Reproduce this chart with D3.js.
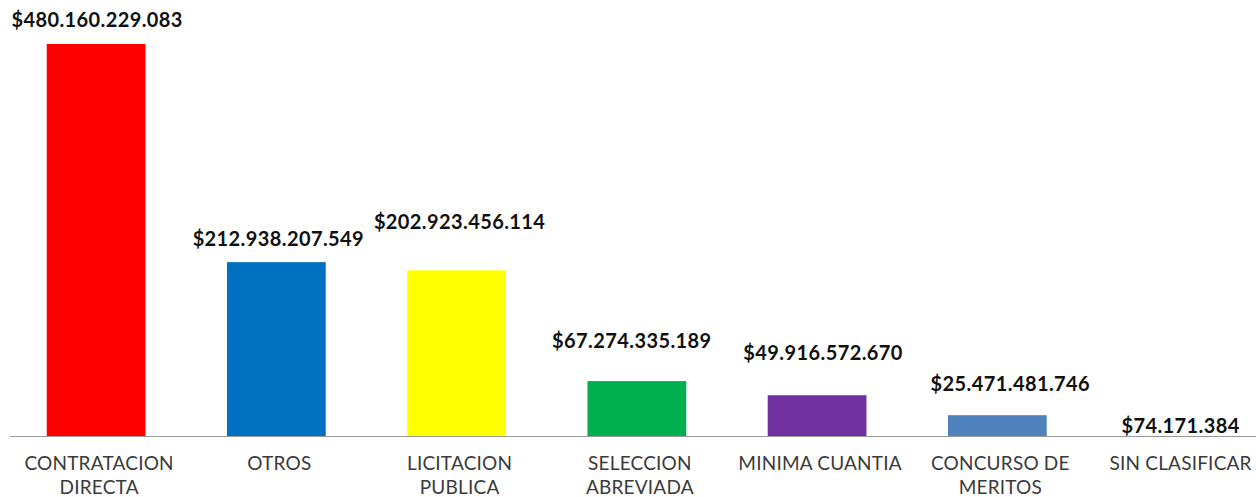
<!DOCTYPE html>
<html>
<head>
<meta charset="utf-8">
<script src="https://cdn.jsdelivr.net/npm/d3@7"></script>
<style>
  html, body { margin: 0; padding: 0; background: #fff; }
  svg { display: block; }
</style>
</head>
<body>
<svg id="chart"></svg>
<script>
// data
const categories = [
  ['CONTRATACION', 'DIRECTA'],
  ['OTROS'],
  ['LICITACION', 'PUBLICA'],
  ['SELECCION', 'ABREVIADA'],
  ['MINIMA CUANTIA'],
  ['CONCURSO DE', 'MERITOS'],
  ['SIN CLASIFICAR']
]
const values = [480160229083, 212938207549, 202923456114, 67274335189, 49916572670, 25471481746, 74171384]
const colors = ['#ff0000', '#0070c0', '#ffff00', '#00b050', '#7030a0', '#4f81bd', '#4f81bd']

const width = 1256
const height = 497
const baseY = 436
const topY = 44

const svg = d3.select('#chart')
  .attr('width', width)
  .attr('height', height)

const keys = categories.map((c, i) => i)

// outer padding = half the inner one so every slot is the same width
const x = d3.scaleBand()
  .domain(keys)
  .range([6, 1267.7])
  .paddingInner(0.452)
  .paddingOuter(0.226)

const y = d3.scaleLinear()
  .domain([0, d3.max(values)])
  .range([baseY, topY])

// format like 480.160.229.083 with a $ in front
const fmt = d => '$' + d3.format(',')(d).replace(/,/g, '.')

// bars
svg.append('g')
  .selectAll('rect')
  .data(values)
  .join('rect')
  .attr('x', (d, i) => x(i))
  .attr('y', d => y(d))
  .attr('width', x.bandwidth())
  .attr('height', d => baseY - y(d))
  .attr('fill', (d, i) => colors[i])

// axis line
svg.append('line')
  .attr('x1', 10)
  .attr('x2', width)
  .attr('y1', baseY + 0.5)
  .attr('y2', baseY + 0.5)
  .attr('stroke', '#9a9a9a')
  .attr('stroke-width', 1)

// data labels were moved by hand in the original, keep those nudges
const labelNudge = [[1, 17], [2, 16], [3, 41], [-5, 33], [6, 35], [13, 24], [3, 3]]

svg.append('g')
  .selectAll('text')
  .data(values)
  .join('text')
  .attr('x', (d, i) => x(i) + x.bandwidth() / 2 + labelNudge[i][0])
  .attr('y', (d, i) => y(d) - labelNudge[i][1])
  .attr('text-anchor', 'middle')
  .attr('font-family', 'Lato, "Open Sans", sans-serif')
  .attr('font-weight', 'bold')
  .attr('font-size', 20)
  .attr('letter-spacing', 0.4)
  .attr('fill', '#111')
  .text(d => fmt(d))

// category labels, two lines where the original wraps
const cat = svg.append('g')
  .selectAll('text')
  .data(categories)
  .join('text')
  .attr('text-anchor', 'middle')
  .attr('font-family', 'Lato, "Open Sans", sans-serif')
  .attr('font-size', 19)
  .attr('letter-spacing', 0.2)
  .attr('fill', '#3a3a3a')

cat.selectAll('tspan')
  .data((d, i) => d.map(line => ({ line, i })))
  .join('tspan')
  .attr('x', d => x(d.i) + x.bandwidth() / 2 + 3)
  .attr('y', (d, j) => 470 + j * 24)
  .text(d => d.line)
</script>
</body>
</html>
